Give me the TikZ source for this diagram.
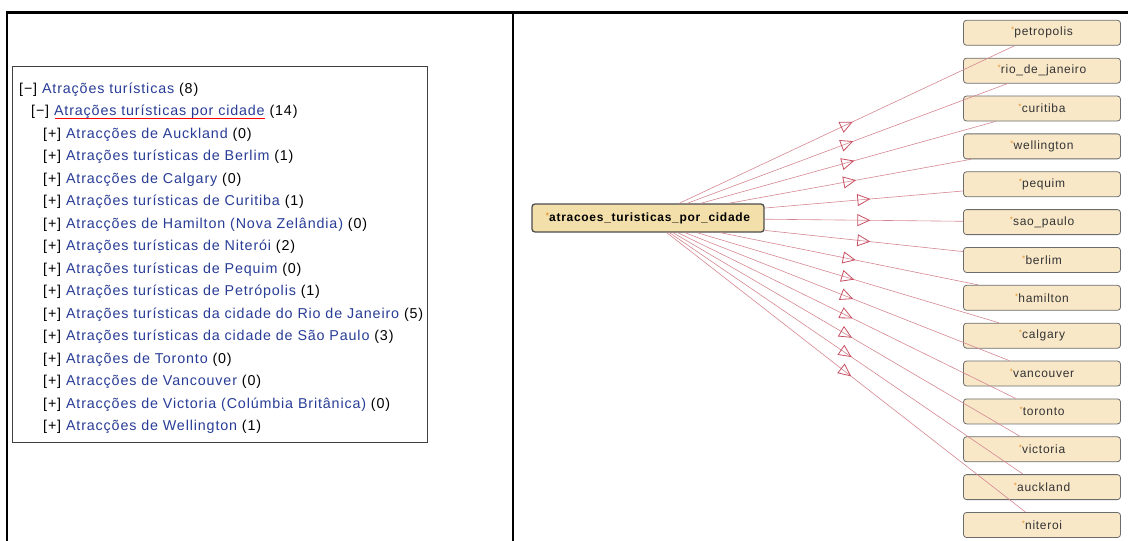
\documentclass[tikz,border=0pt]{standalone}
\usepackage{fontspec}
\setmainfont{Liberation Sans}
\newfontfamily\treefont[LetterSpace=6]{Liberation Sans}
\newfontfamily\nodefont[LetterSpace=6]{Liberation Sans}
\usetikzlibrary{arrows.meta,decorations.markings}
\definecolor{linkblue}{RGB}{40,60,150}
\definecolor{cfill}{RGB}{243,223,170}
\definecolor{tfill}{RGB}{249,232,200}
\definecolor{edgec}{RGB}{212,135,145}
\definecolor{arrc}{RGB}{200,80,100}
\definecolor{astc}{RGB}{225,150,50}
\newcommand\stmark{\raisebox{3pt}{\fontsize{8}{8}\selectfont\textcolor{astc}{*}}\kern0.2pt}
\newcommand\lk[1]{\textcolor{linkblue}{#1}}
\tikzset{
  treeline/.style={anchor=base west, inner sep=0pt, font=\treefont\fontsize{14.3}{16}\selectfont, text=black},
  tnode/.style={draw=gray!85!black, fill=tfill, rounded corners=3pt, line width=0.8pt,
    minimum width=157pt, minimum height=25pt, inner sep=0pt, font=\nodefont\fontsize{12}{14}\selectfont, text=black!80},
  cnode/.style={draw=black!70, fill=cfill, rounded corners=3pt, line width=1.3pt,
    minimum width=232pt, minimum height=28pt, inner sep=0pt, font=\nodefont\bfseries\fontsize{12}{14}\selectfont, text=black},
  edgeline/.style={draw=edgec, line width=0.6pt, postaction={decorate},
    decoration={markings, mark=at position 0.5 with {\pgftransformxshift{6.5pt}\arrow{Triangle[open,length=13pt,width=12pt,color=arrc,line width=0.8pt]}}}}
}
\begin{document}
\begin{tikzpicture}[x=1pt,y=-1pt]
\useasboundingbox (0,0) rectangle (1128,541);
% frame
\draw[line width=2.5pt] (7,541) -- (7,12.5) -- (1128,12.5);
\draw[line width=2.2pt] (513,12.5) -- (513,541);
% left tree box
\draw[black!75, line width=0.8pt] (12,66) rectangle (427,442);
\node[treeline] (l1) at (19,93) {[−] \lk{Atrações turísticas} (8)};
\node[treeline] (l2) at (31,115.5) {[−] \lk{Atrações turísticas por cidade} (14)};
\node[treeline] (l3) at (43,138) {[+] \lk{Atracções de Auckland} (0)};
\node[treeline] (l4) at (43,160.5) {[+] \lk{Atrações turísticas de Berlim} (1)};
\node[treeline] (l5) at (43,183) {[+] \lk{Atracções de Calgary} (0)};
\node[treeline] (l6) at (43,205.5) {[+] \lk{Atrações turísticas de Curitiba} (1)};
\node[treeline] (l7) at (43,228) {[+] \lk{Atracções de Hamilton (Nova Zelândia)} (0)};
\node[treeline] (l8) at (43,250.5) {[+] \lk{Atrações turísticas de Niterói} (2)};
\node[treeline] (l9) at (43,273) {[+] \lk{Atrações turísticas de Pequim} (0)};
\node[treeline] (l10) at (43,295.5) {[+] \lk{Atrações turísticas de Petrópolis} (1)};
\node[treeline] (l11) at (43,318) {[+] \lk{Atrações turísticas da cidade do Rio de Janeiro} (5)};
\node[treeline] (l12) at (43,340.5) {[+] \lk{Atrações turísticas da cidade de São Paulo} (3)};
\node[treeline] (l13) at (43,363) {[+] \lk{Atrações de Toronto} (0)};
\node[treeline] (l14) at (43,385.5) {[+] \lk{Atracções de Vancouver} (0)};
\node[treeline] (l15) at (43,408) {[+] \lk{Atracções de Victoria (Colúmbia Britânica)} (0)};
\node[treeline] (l16) at (43,430.5) {[+] \lk{Atracções de Wellington} (1)};
\draw[red, line width=1.5pt] (55,118.5) -- (265,118.5);
% right graph
\node[cnode] (c) at (648,218) {\stmark atracoes\_turisticas\_por\_cidade};
\foreach \nm/\lab [count=\i from 0] in {petropolis/petropolis, rio/rio\_de\_janeiro, curitiba/curitiba, wellington/wellington, pequim/pequim, saopaulo/sao\_paulo, berlim/berlim, hamilton/hamilton, calgary/calgary, vancouver/vancouver, toronto/toronto, victoria/victoria, auckland/auckland, niteroi/niteroi}
  \node[tnode] (\nm) at (1042,{32.8+37.86*\i}) {\stmark\lab};
\foreach \nm in {petropolis,rio,curitiba,wellington,pequim,saopaulo,berlim,hamilton,calgary,vancouver,toronto,victoria,auckland,niteroi}
  \draw[edgeline] (c) -- (\nm);
\end{tikzpicture}
\end{document}
